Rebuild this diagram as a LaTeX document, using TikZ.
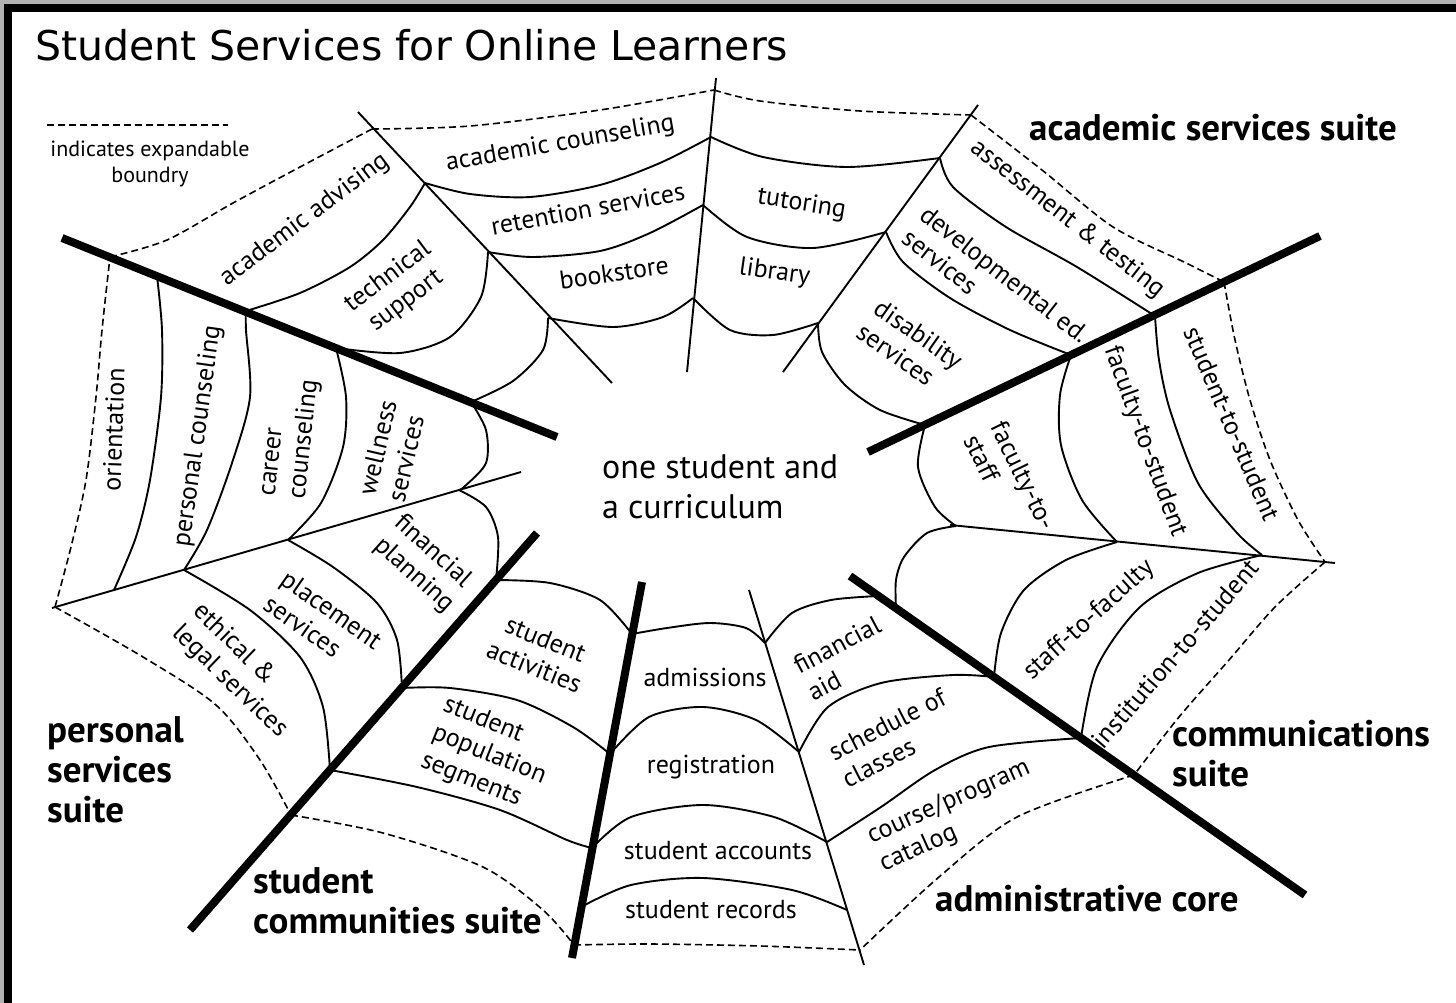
\documentclass[tikz,border=0pt]{standalone}
\usepackage{fontspec}
\setmainfont{PT Sans}
\newfontfamily\titlefont{DejaVu Sans}
\begin{document}
\begin{tikzpicture}[x=1pt,y=-1pt,
  web/.style={line width=1.9pt, line join=round},
  spoke/.style={line width=1.9pt},
  heavy/.style={line width=8pt},
  bound/.style={line width=1.6pt, dash pattern=on 7pt off 4pt},
  lbl/.style={font=\fontsize{26}{30}\selectfont, inner sep=0pt, align=center},
  lbll/.style={lbl, align=left},
  one/.style={lbl, text height=0.72em, text depth=0.2em},
  suite/.style={font=\fontsize{37}{40}\selectfont\bfseries, inner sep=0pt, align=left},
]
\useasboundingbox (0,0) rectangle (1456,1003);
% frame
\fill[black!30] (0,0) rectangle (1456,4);
\fill[black!30] (0,0) rectangle (4,1003);
\fill[black] (4,4) rectangle (1456,12);
\fill[black] (4,4) rectangle (12,1003);

% title and legend
\node[font=\titlefont\fontsize{41}{48}\selectfont, anchor=base west, inner sep=0pt] (title) at (35,61) {Student Services for Online Learners};
\coordinate (lg1) at (47,125); \coordinate (lg2) at (228,125);
\draw[bound] (lg1) -- (lg2);
\node[font=\fontsize{22}{26}\selectfont, align=center, inner sep=0pt] (legend) at (150,164) {indicates expandable\\boundry};

% spokes ends
\coordinate (T1o) at (62,238);   \coordinate (T1i) at (557,437);
\coordinate (S1o) at (358,112);  \coordinate (S1i) at (612,383);
\coordinate (S2o) at (716,78);   \coordinate (S2i) at (687,372);
\coordinate (S3o) at (978,105);  \coordinate (S3i) at (783,372);
\coordinate (T2o) at (1320,236); \coordinate (T2i) at (868,452);
\coordinate (S4o) at (1335,563); \coordinate (S4i) at (950,525);
\coordinate (T5o) at (1305,895); \coordinate (T5i) at (850,576);
\coordinate (S5o) at (864,965);  \coordinate (S5i) at (749,590);
\coordinate (T4o) at (572,958);  \coordinate (T4i) at (642,582);
\coordinate (T3o) at (190,930);  \coordinate (T3i) at (537,533);
\coordinate (S6o) at (52,608);   \coordinate (S6i) at (521,472);

% junctions
\coordinate (t1a) at (110,257); \coordinate (t1b) at (157,276); \coordinate (t1c) at (246,311); \coordinate (t1d) at (336,348); \coordinate (t1e) at (471,402);
\coordinate (s1a) at (372,129); \coordinate (s1b) at (425,183); \coordinate (s1c) at (488,252); \coordinate (s1d) at (548,318);
\coordinate (s2a) at (714,90);  \coordinate (s2b) at (711,137); \coordinate (s2c) at (703,205); \coordinate (s2d) at (693,298);
\coordinate (s3a) at (971,115); \coordinate (s3b) at (940,158); \coordinate (s3c) at (886,232); \coordinate (s3d) at (818,323);
\coordinate (t2a) at (1224,282); \coordinate (t2b) at (1155,316); \coordinate (t2c) at (1071,355); \coordinate (t2d) at (925,425);
\coordinate (s4a) at (1325,562); \coordinate (s4b) at (1262,555); \coordinate (s4c) at (1117,542); \coordinate (s4d) at (956,526);
\coordinate (t5a) at (1134,775); \coordinate (t5b) at (1081,738); \coordinate (t5c) at (994,677); \coordinate (t5d) at (896,608); \coordinate (t5e) at (878,596);
\coordinate (s5a) at (765,643); \coordinate (s5b) at (799,752); \coordinate (s5c) at (827,842); \coordinate (s5d) at (847,910); \coordinate (s5e) at (860,950);
\coordinate (t4a) at (632,634); \coordinate (t4b) at (610,754); \coordinate (t4c) at (592,848); \coordinate (t4d) at (581,907); \coordinate (t4e) at (574,945);
\coordinate (t3a) at (496,580); \coordinate (t3b) at (402,688); \coordinate (t3c) at (330,770); \coordinate (t3d) at (291,815);
\coordinate (s6a) at (55,607); \coordinate (s6b) at (114,590); \coordinate (s6c) at (184,570); \coordinate (s6d) at (288,540); \coordinate (s6e) at (459,490);

% sector A
\draw[bound] plot[smooth] coordinates {(t1a) (167,240) (233,203) (300,167) (s1a)};
\draw[web] plot[smooth] coordinates {(t1c) (300,293) (350,267) (383,240) (410,207) (s1b)};
\draw[web] plot[smooth] coordinates {(t1d) (400,353) (450,337) (481,297) (s1c)};
\draw[web] plot[smooth] coordinates {(t1e) (513,381) (543,350) (s1d)};
% sector B
\draw[bound] plot[smooth] coordinates {(s1a) (470,126) (600,110) (s2a)};
\draw[web] plot[smooth] coordinates {(s1b) (470,194) (530,197) (600,185) (660,163) (s2b)};
\draw[web] plot[smooth] coordinates {(s1c) (533,257) (600,251) (650,233) (s2c)};
\draw[web] plot[smooth] coordinates {(s1d) (613,327) (663,317) (s2d)};
% sector C
\draw[bound] plot[smooth] coordinates {(s2a) (760,101) (860,111) (s3a)};
\draw[web] plot[smooth] coordinates {(s2b) (763,157) (847,167) (s3b)};
\draw[web] plot[smooth] coordinates {(s2c) (747,237) (813,248) (s3c)};
\draw[web] plot[smooth] coordinates {(s2d) (730,330) (773,335) (s3d)};
% sector D
\draw[bound] plot[smooth] coordinates {(s3a) (1042,170) (1113,227) (1184,262) (t2a)};
\draw[web] plot[smooth] coordinates {(s3b) (953,187) (1006,227) (1077,267) (t2b)};
\draw[web] plot[smooth] coordinates {(s3c) (903,262) (950,298) (1010,330) (t2c)};
\draw[web] plot[smooth] coordinates {(s3d) (822,352) (845,385) (880,410) (t2d)};
% sector E
\draw[bound] plot[smooth] coordinates {(t2a) (1235,340) (1250,400) (1270,460) (1298,520) (s4a)};
\draw[web] plot[smooth] coordinates {(t2b) (1159,360) (1170,410) (1198,483) (1237,533) (s4b)};
\draw[web] plot[smooth] coordinates {(t2c) (1060,395) (1061,445) (1082,500) (s4c)};
\draw[web] plot[smooth] coordinates {(t2d) (918,467) (935,507) (s4d)};
% sector F
\draw[bound] plot[smooth] coordinates {(s4a) (1275,607) (1229,660) (1179,717) (t5a)};
\draw[web] plot[smooth] coordinates {(s4b) (1198,573) (1140,607) (1097,667) (t5b)};
\draw[web] plot[smooth] coordinates {(s4c) (1066,560) (1024,590) (1001,633) (t5c)};
\draw[web] plot[smooth] coordinates {(s4d) (927,533) (904,557) (896,580) (t5d)};
% sector G
\draw[bound] plot[smooth] coordinates {(t5a) (1017,817) (939,877) (s5e)};
\draw[web] plot[smooth] coordinates {(s5a) (792,613) (831,600) (t5e)};
\draw[web] plot[smooth] coordinates {(s5b) (828,707) (881,683) (953,675) (t5c)};
\draw[web] plot[smooth] coordinates {(s5c) (881,807) (935,770) (989,747) (t5b)};
% sector H
\draw[bound] plot[smooth] coordinates {(t4e) (650,944) (760,946) (s5e)};
\draw[web] plot[smooth] coordinates {(t4a) (667,628) (710,623) (746,628) (s5a)};
\draw[web] plot[smooth] coordinates {(t4b) (649,717) (703,707) (756,720) (s5b)};
\draw[web] plot[smooth] coordinates {(t4c) (631,817) (703,805) (774,817) (s5c)};
\draw[web] plot[smooth] coordinates {(t4d) (631,885) (703,878) (792,890) (s5d)};
% sector I
\draw[bound] plot[smooth] coordinates {(t3d) (383,833) (483,867) (543,910) (t4e)};
\draw[web] plot[smooth] coordinates {(t3a) (550,583) (600,600) (t4a)};
\draw[web] plot[smooth] coordinates {(t3b) (450,688) (517,700) (573,727) (t4b)};
\draw[web] plot[smooth] coordinates {(t3c) (417,787) (500,810) (567,840) (t4c)};
% sector J
\draw[bound] plot[smooth] coordinates {(s6a) (143,657) (216,705) (260,760) (t3d)};
\draw[web] plot[smooth] coordinates {(s6c) (250,610) (300,657) (323,707) (t3c)};
\draw[web] plot[smooth] coordinates {(s6d) (333,567) (377,603) (397,640) (t3b)};
\draw[web] plot[smooth] coordinates {(s6e) (486,507) (498,537) (t3a)};
% sector K
\draw[bound] plot[smooth] coordinates {(s6a) (71,547) (86,480) (96,397) (102,330) (t1a)};
\draw[web] plot[smooth] coordinates {(s6b) (136,537) (150,480) (161,397) (162,330) (t1b)};
\draw[web] plot[smooth] coordinates {(s6c) (207,530) (232,463) (250,397) (246,330) (t1c)};
\draw[web] plot[smooth] coordinates {(s6d) (321,503) (343,447) (346,397) (t1d)};
\draw[web] plot[smooth] coordinates {(s6e) (464,487) (486,463) (486,430) (t1e)};

% thin spokes
\draw[spoke] (S1o) -- (S1i);
\draw[spoke] (S2o) -- (S2i);
\draw[spoke] (S3o) -- (S3i);
\draw[spoke] (S4o) -- (S4i);
\draw[spoke] (S5o) -- (S5i);
\draw[spoke] (S6o) -- (S6i);
% thick spokes
\draw[heavy] (T1o) -- (T1i);
\draw[heavy] (T2o) -- (T2i);
\draw[heavy] (T3o) -- (T3i);
\draw[heavy] (T4o) -- (T4i);
\draw[heavy] (T5o) -- (T5i);

% labels
\node[one, rotate=37] (acadv) at (307,223) {academic advising};
\node[lbl, rotate=37] (tech) at (397,289) {technical\\support};
\node[one, rotate=10] (acou) at (561,148) {academic counseling};
\node[one, rotate=10.5] (ret) at (589,215) {retention services};
\node[one, rotate=8] (book) at (615,279) {bookstore};
\node[one, rotate=-9] (tut) at (801,208) {tutoring};
\node[one, rotate=-8] (lib) at (774,277) {library};
\node[one, rotate=-38] (asst) at (1065,222) {assessment \& testing};
\node[lbll, rotate=-38] (dev) at (996,286) {developmental ed.\\services};
\node[lbll, rotate=-35] (dis) at (910,346) {disability\\services};
\node[lbll, rotate=-64] (fts) at (1010,482) {faculty-to-\\staff};
\node[one, rotate=-70] (ftst) at (1141,443) {faculty-to-student};
\node[one, rotate=-67] (sts) at (1226,426) {student-to-student};
\node[one, rotate=42] (stf) at (1092,623) {staff-to-faculty};
\node[one, rotate=49] (its) at (1180,658) {institution-to-student};
\node[lbll, rotate=28] (fa) at (844,658) {financial\\aid};
\node[lbll, rotate=27] (sch) at (894,738) {schedule of\\classes};
\node[lbll, rotate=24] (cat) at (955,816) {course/program\\catalog};
\node[one] (adm) at (705,684) {admissions};
\node[one] (reg) at (711,771) {registration};
\node[one] (sacc) at (718,857) {student accounts};
\node[one] (srec) at (711,916) {student records};
\node[lbl, rotate=-22] (sact) at (540,653) {student\\activities};
\node[lbll, rotate=-22] (spop) at (489,755) {student\\population\\segments};
\node[lbll, rotate=-42] (fp) at (424,564) {financial\\planning};
\node[lbll, rotate=-35] (pl) at (323,622) {placement\\services};
\node[lbll, rotate=-44] (eth) at (240,671) {ethical \&\\legal services};
\node[one, rotate=88] (ori) at (120,430) {orientation};
\node[one, rotate=82] (pc) at (202,437) {personal counseling};
\node[lbll, rotate=84] (cc) at (292,438) {career\\counseling};
\node[lbll, rotate=77] (well) at (392,451) {wellness\\services};
\node[font=\fontsize{34}{40}\selectfont, inner sep=0pt, align=left, anchor=west] (core) at (602,487) {one student and\\a curriculum};

% suite labels
\node[suite, anchor=base west] (ass) at (1029,141) {academic services suite};
\node[suite, anchor=north west] (comm) at (1172,720) {communications\\suite};
\node[suite, anchor=base west] (adminc) at (935,911) {administrative core};
\node[suite, anchor=north west] (scs) at (253,867) {student\\communities suite};
\node[suite, anchor=north west] (pss) at (47,716) {personal\\services\\suite};
\end{tikzpicture}
\end{document}
